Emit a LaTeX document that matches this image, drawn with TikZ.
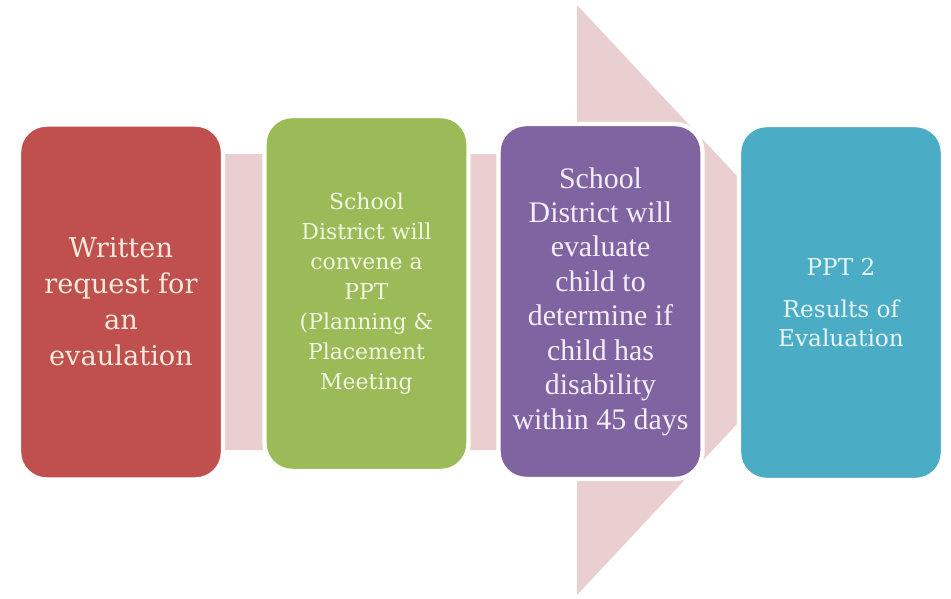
\documentclass[tikz,border=0pt]{standalone}
\usepackage{fontspec}
\usepackage{tikz}
\usetikzlibrary{positioning}
\newfontfamily\boxfont{DejaVu Serif}
\newfontfamily\timesfont{Liberation Serif}
\definecolor{stepred}{HTML}{C0504D}
\definecolor{stepgreen}{HTML}{9BBB59}
\definecolor{steppurple}{HTML}{8064A2}
\definecolor{stepteal}{HTML}{4BACC6}
\definecolor{bgarrow}{HTML}{E9CFCF}
\definecolor{redtext}{HTML}{F8E9DF}
\definecolor{greentext}{HTML}{F1F6E2}
\definecolor{purpletext}{HTML}{F3EEF7}
\definecolor{tealtext}{HTML}{E8F5F8}
\tikzset{
  phase/.style={draw=white, line width=2.5pt, rounded corners=0.55cm,
    minimum width=4.08cm, minimum height=7.1cm, align=center,
    inner sep=2pt}
}

\begin{document}
\begin{tikzpicture}[x=0.02cm,y=-0.02cm]
  \useasboundingbox[fill=white] (0,0) rectangle (951,599);
  % background arrow
  \fill[bgarrow] (60,154)--(577,154)--(577,5)--(853,300)--(577,595)
    --(577,450)--(60,450)--cycle;
  % the four steps
  \node[phase, fill=stepred, text=redtext,
    font=\boxfont\fontsize{15.5}{20.5}\selectfont] (req) at (121,302)
    {Written\\request for\\an\\evaulation};
  \node[phase, fill=stepgreen, text=greentext,
    font=\boxfont\fontsize{12.5}{17}\selectfont] (ppt) at (366.5,293.5)
    {School\\District will\\convene a\\PPT\\(Planning \&\\Placement\\Meeting};
  \node[phase, fill=steppurple, text=purpletext,
    font=\timesfont\fontsize{17}{19.6}\selectfont] (eval) at (600.5,301.5)
    {School\\District will\\evaluate\\child to\\determine if\\child has\\disability\\within 45 days};
  \node[phase, fill=stepteal, text=tealtext,
    font=\boxfont\fontsize{13.2}{16}\selectfont] (res) at (841,302.5)
    {PPT 2\\[8pt]Results of\\Evaluation};
\end{tikzpicture}
\end{document}
